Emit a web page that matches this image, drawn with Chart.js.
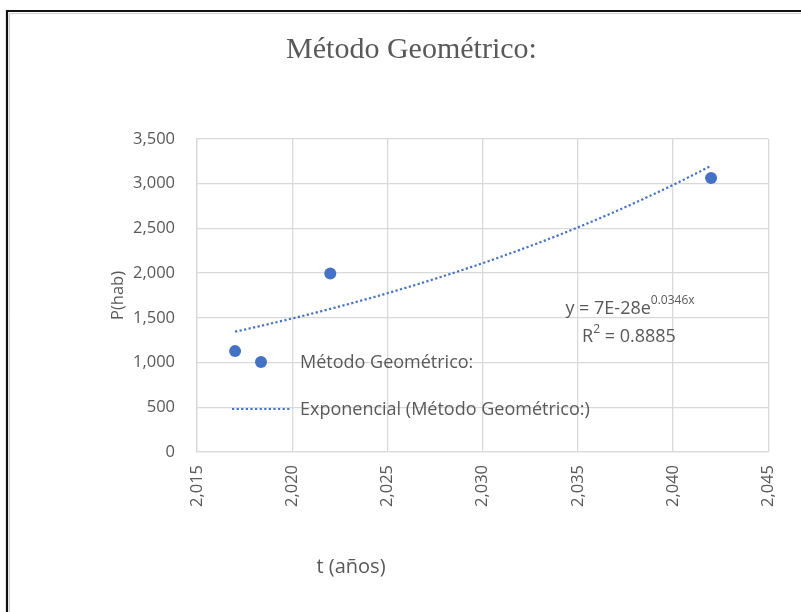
<!DOCTYPE html>
<html>
<head>
<meta charset="utf-8">
<script src="https://cdn.jsdelivr.net/npm/chart.js@4.4.1/dist/chart.umd.min.js"></script>
<style>
  html, body { margin: 0; padding: 0; background: #ffffff; }
  #wrap { position: relative; width: 801px; height: 612px; }
  canvas { display: block; }
</style>
</head>
<body>
<div id="wrap"><canvas id="chart" width="801" height="612"></canvas></div>
<script>
// ---- data ----
const chartTitle = 'Método Geométrico:';
const xAxisTitle = 't (años)';
const yAxisTitle = 'P(hab)';
const seriesName = 'Método Geométrico:';
const trendName = 'Exponencial (Método Geométrico:)';

const years = [2017, 2022, 2042];          // t (años)
const population = [1128, 1995, 3063];     // P(hab)

const xRange = [2015, 2045];
const xStep = 5;
const yRange = [0, 3500];
const yStep = 500;

const equationMain = 'y = 7E-28e';
const equationExp = '0.0346x';
const r2Label = 'R';
const r2Value = ' = 0.8885';

// ---- exponential least-squares trend (fit on ln P) ----
function expFit(xs, ys) {
  const n = xs.length;
  const ly = ys.map(v => Math.log(v));
  const mx = xs.reduce((s, v) => s + v, 0) / n;
  const my = ly.reduce((s, v) => s + v, 0) / n;
  let sxy = 0, sxx = 0;
  for (let i = 0; i < n; i++) {
    sxy += (xs[i] - mx) * (ly[i] - my);
    sxx += (xs[i] - mx) * (xs[i] - mx);
  }
  const b = sxy / sxx;
  return x => Math.exp(my + b * (x - mx));
}
const trend = expFit(years, population);
const tMin = Math.min(...years), tMax = Math.max(...years);
const trendPoints = [];
for (let i = 0; i <= 100; i++) {
  const x = tMin + (tMax - tMin) * i / 100;
  trendPoints.push({ x, y: trend(x) });
}

const BLUE = '#4472c4';
const TEXT = '#595959';
const GRID = '#d9d9d9';
const SANS = "'Open Sans', 'Liberation Sans', sans-serif";

// frame, legend, equation and x-axis title
const decorations = {
  id: 'decorations',
  beforeDraw(chart) {
    const ctx = chart.ctx;
    ctx.save();
    ctx.fillStyle = '#ffffff';
    ctx.fillRect(0, 0, chart.width, chart.height);
    ctx.restore();
  },
  afterDraw(chart) {
    const ctx = chart.ctx;
    const pts = chart.data.datasets[0];
    const ln = chart.data.datasets[1];
    ctx.save();

    // outer frame (top and left edges)
    ctx.strokeStyle = '#d0d0d0';
    ctx.lineWidth = 1;
    ctx.beginPath();
    ctx.moveTo(9.5, chart.height); ctx.lineTo(9.5, 13.5); ctx.lineTo(chart.width, 13.5);
    ctx.stroke();
    ctx.strokeStyle = '#111111';
    ctx.lineWidth = 2.2;
    ctx.beginPath();
    ctx.moveTo(7, chart.height); ctx.lineTo(7, 11); ctx.lineTo(chart.width, 11);
    ctx.stroke();

    // x-axis title
    ctx.fillStyle = TEXT;
    ctx.font = '20px ' + SANS;
    ctx.textAlign = 'center';
    ctx.textBaseline = 'middle';
    ctx.fillText(xAxisTitle, 351, 567);

    // legend
    ctx.font = '18px ' + SANS;
    ctx.textAlign = 'left';
    ctx.beginPath();
    ctx.fillStyle = pts.backgroundColor;
    ctx.arc(261, 362, pts.pointRadius, 0, Math.PI * 2);
    ctx.fill();
    ctx.fillStyle = TEXT;
    ctx.fillText(seriesName, 300, 363);

    ctx.strokeStyle = ln.borderColor;
    ctx.lineWidth = ln.borderWidth;
    ctx.setLineDash(ln.borderDash);
    ctx.beginPath();
    ctx.moveTo(232, 409); ctx.lineTo(290, 409);
    ctx.stroke();
    ctx.setLineDash([]);
    ctx.fillText(trendName, 300, 410);

    // trend equation and R²
    const big = '18px ' + SANS, small = '12px ' + SANS;
    ctx.font = big;
    const w1 = ctx.measureText(equationMain).width;
    ctx.font = small;
    const w2 = ctx.measureText(equationExp).width;
    const ex = 630 - (w1 + w2) / 2;
    ctx.font = big;
    ctx.fillText(equationMain, ex, 309);
    ctx.font = small;
    ctx.fillText(equationExp, ex + w1, 301);

    ctx.font = big;
    const r1 = ctx.measureText(r2Label).width;
    const r3 = ctx.measureText(r2Value).width;
    ctx.font = small;
    const r2 = ctx.measureText('2').width;
    const rx = 629 - (r1 + r2 + r3) / 2;
    ctx.font = big;
    ctx.fillText(r2Label, rx, 337);
    ctx.fillText(r2Value, rx + r1 + r2, 337);
    ctx.font = small;
    ctx.fillText('2', rx + r1, 330);

    ctx.restore();
  }
};

new Chart(document.getElementById('chart'), {
  type: 'scatter',
  data: {
    datasets: [
      {
        label: seriesName,
        data: years.map((x, i) => ({ x, y: population[i] })),
        backgroundColor: BLUE,
        borderColor: BLUE,
        pointRadius: 6,
        pointBorderWidth: 0,
        showLine: false
      },
      {
        label: trendName,
        data: trendPoints,
        showLine: true,
        borderColor: BLUE,
        borderWidth: 2.2,
        borderDash: [2.2, 2.4],
        pointRadius: 0,
        fill: false,
        tension: 0
      }
    ]
  },
  options: {
    responsive: false,
    animation: false,
    locale: 'en-US',
    layout: { padding: { left: 54, right: 32, top: 0, bottom: 0 } },
    plugins: {
      legend: { display: false },
      tooltip: { enabled: false },
      title: {
        display: true,
        text: chartTitle,
        color: TEXT,
        font: { family: "'Liberation Serif', 'Times New Roman', serif", size: 30, weight: 'normal', lineHeight: 1.2 },
        padding: { top: 32, bottom: 71 }
      }
    },
    scales: {
      x: {
        type: 'linear',
        min: xRange[0],
        max: xRange[1],
        ticks: {
          stepSize: xStep,
          minRotation: 90,
          maxRotation: 90,
          color: TEXT,
          font: { family: SANS, size: 16.5 },
          padding: 13
        },
        grid: { color: GRID, lineWidth: 1.3, drawTicks: false },
        border: { color: GRID, width: 1.3 },
        afterFit(scale) { scale.height = 160; }
      },
      y: {
        type: 'linear',
        min: yRange[0],
        max: yRange[1],
        ticks: {
          stepSize: yStep,
          color: TEXT,
          font: { family: SANS, size: 16.5 },
          padding: 22
        },
        grid: { color: GRID, lineWidth: 1.3, drawTicks: false },
        border: { color: GRID, width: 1.3 },
        title: {
          display: true,
          text: yAxisTitle,
          color: TEXT,
          font: { family: SANS, size: 16.5 },
          padding: { top: 54, bottom: 0 }
        },
        afterFit(scale) { scale.width = 143; }
      }
    }
  },
  plugins: [decorations]
});
</script>
</body>
</html>
